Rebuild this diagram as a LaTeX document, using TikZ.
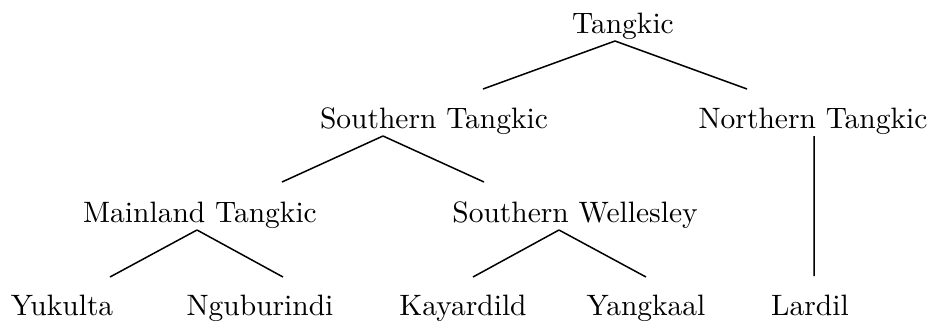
\documentclass[tikz,border=0pt]{standalone}
\usepackage{fontspec}
\setmainfont{lmroman10-regular}[Extension=.otf]
\usepackage{tikz}

\begin{document}
\begin{tikzpicture}[x=1pt,y=-1pt,line width=1.5pt,
        lang node/.style={inner sep=0pt,anchor=base,font=\fontsize{29.5}{34}\selectfont}]
        \useasboundingbox (0,0) rectangle (938,322);

        \node[lang node] (tangkic) at (623,33) {Tangkic};
        \node[lang node] (stangkic) at (434,128) {Southern Tangkic};
        \node[lang node] (ntangkic) at (813,128) {Northern Tangkic};
        \node[lang node] (mainland) at (200,222) {Mainland Tangkic};
        \node[lang node] (swellesley) at (575,222) {Southern Wellesley};
        \node[lang node] (yukulta) at (62,315) {Yukulta};
        \node[lang node] (nguburindi) at (260,315) {Nguburindi};
        \node[lang node] (kayardild) at (463,315) {Kayardild};
        \node[lang node] (yangkaal) at (646,315) {Yangkaal};
        \node[lang node] (lardil) at (810,315) {Lardil};

        \coordinate (tangkic-b) at (615,41);
        \coordinate (stangkic-b) at (383,136);
        \coordinate (mainland-b) at (197,230);
        \coordinate (swellesley-b) at (559,230);

        \path[draw]
        (tangkic-b) -- (483,89)
        (tangkic-b) -- (747,89)
        (stangkic-b) -- (282,182)
        (stangkic-b) -- (484,182)
        (mainland-b) -- (110,277)
        (mainland-b) -- (283,277)
        (swellesley-b) -- (473,277)
        (swellesley-b) -- (646,277)
        (814,136) -- (814,276);
\end{tikzpicture}
\end{document}
